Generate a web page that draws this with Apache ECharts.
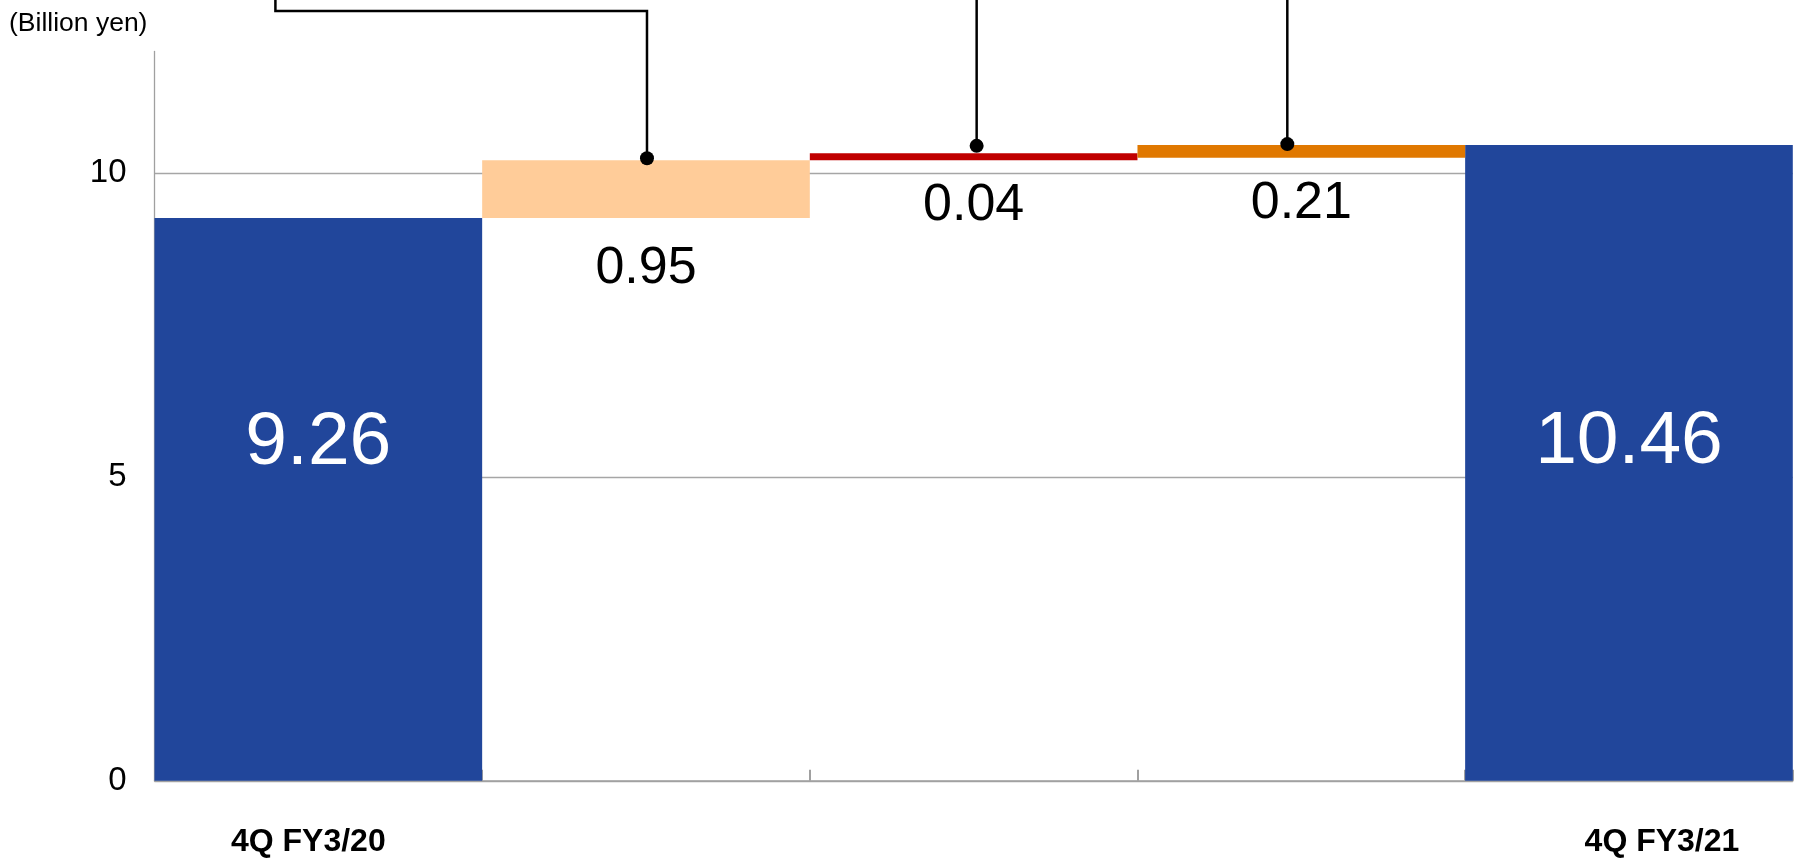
<!DOCTYPE html>
<html><head><meta charset="utf-8">
<script src="https://cdn.jsdelivr.net/npm/echarts@6/dist/echarts.min.js"></script>
<style>html,body{margin:0;padding:0;background:#fff}#c{width:1795px;height:858px}</style>
</head><body><div id="c"></div>
<script>
// ---- data ----
const categories = ['4Q FY3/20', ' ', '  ', '   ', '4Q FY3/21'];
const startValue = 9.26;
const changes = [0.95, 0.04, 0.21];
const endValue = 10.46;
const changeLabels = ['0.95', '0.04', '0.21'];
const yAxisMin = 0, yAxisMax = 12, yAxisInterval = 5;
const unitLabel = '(Billion yen)';

// ---- style ----
const FONT = '"Liberation Sans", Arial, Helvetica, sans-serif';
const totalColor = '#21469B';
const stepColors = ['#FFCC99', '#C00000', '#E07800'];
const stepLabelDist = [51, 45, 46];
const stepMinHeight = [0, 7, 0];
const leaderStyle = [
  {dx: 1, dy: -2, elbow: true},
  {dx: 3, dy: -12, elbow: false},
  {dx: -14, dy: -1, elbow: false}
];

const bases = [];
let run = startValue;
changes.forEach(c => { bases.push(run); run = +(run + c).toFixed(4); });

const chart = echarts.init(document.getElementById('c'), null, {renderer: 'canvas'});

const baseData = categories.map((_, i) => (i >= 1 && i <= changes.length) ? bases[i - 1] : '-');
const totalData = categories.map((_, i) => {
  if (i === 0) return {value: startValue, label: {offset: [0, -56]}};
  if (i === categories.length - 1) return {value: endValue, label: {offset: [0, -21]}};
  return '-';
});

const series = [
  {type: 'bar', stack: 'w', data: baseData, barCategoryGap: '0%',
   itemStyle: {color: 'rgba(0,0,0,0)'}, silent: true, label: {show: false}},
  {type: 'bar', stack: 'w', data: totalData, barCategoryGap: '0%',
   itemStyle: {color: totalColor},
   label: {show: true, position: 'inside', color: '#fff', fontSize: 75, fontFamily: FONT,
           formatter: p => Number(p.value).toFixed(2)}}
];
changes.forEach((c, k) => {
  series.push({
    type: 'bar', stack: 'w', barCategoryGap: '0%', barMinHeight: stepMinHeight[k],
    data: categories.map((_, i) => i === k + 1 ? c : '-'),
    itemStyle: {color: stepColors[k]},
    label: {show: true, position: 'bottom', verticalAlign: 'middle', distance: stepLabelDist[k],
            color: '#000', fontSize: 52, fontFamily: FONT, formatter: () => changeLabels[k]}
  });
});

chart.setOption({
  animation: false,
  backgroundColor: '#fff',
  textStyle: {fontFamily: FONT},
  title: {text: unitLabel, left: 9, top: 10, padding: 0,
          textStyle: {fontSize: 26.5, fontWeight: 'normal', color: '#000', fontFamily: FONT}},
  grid: {left: 154.5, right: 2.2, top: 51.5, bottom: 77.2, containLabel: false},
  xAxis: {
    type: 'category',
    data: [
      {value: categories[0], textStyle: {padding: [0, 20, 0, 0]}},
      categories[1], categories[2], categories[3],
      {value: categories[4], textStyle: {padding: [0, 0, 0, 66]}}
    ],
    axisLine: {lineStyle: {color: '#a0a0a0', width: 1.5}},
    axisTick: {show: true, inside: true, length: 11, alignWithLabel: false,
               lineStyle: {color: '#a0a0a0', width: 2}},
    axisLabel: {interval: 0, fontSize: 32, fontWeight: 'bold', color: '#000', margin: 45, fontFamily: FONT}
  },
  yAxis: {
    type: 'value', min: yAxisMin, max: yAxisMax, interval: yAxisInterval,
    axisLine: {show: true, lineStyle: {color: '#a0a0a0', width: 1.3}},
    axisTick: {show: false},
    axisLabel: {fontSize: 33, color: '#000', margin: 28, showMaxLabel: false, fontFamily: FONT},
    splitLine: {show: true, showMaxLine: false, lineStyle: {color: '#a6a6a6', width: 1.3}}
  },
  series: series
});

// leader lines with dots at each step
const graphics = [];
const catW = chart.convertToPixel({gridIndex: 0}, [1, 0])[0] - chart.convertToPixel({gridIndex: 0}, [0, 0])[0];
const cat0Left = chart.convertToPixel({gridIndex: 0}, [0, 0])[0] - catW / 2;
const gridTop = chart.convertToPixel({gridIndex: 0}, [0, yAxisMax])[1];
changes.forEach((c, k) => {
  const top = bases[k] + c;
  const p = chart.convertToPixel({gridIndex: 0}, [k + 1, top]);
  const x = p[0] + leaderStyle[k].dx;
  const y = p[1] + leaderStyle[k].dy;
  let pts;
  if (leaderStyle[k].elbow) {
    const ey = gridTop - 40.5;
    const ex = cat0Left + catW * 0.369;
    pts = [[x, y], [x, ey], [ex, ey], [ex, -5]];
  } else {
    pts = [[x, y], [x, -5]];
  }
  graphics.push({type: 'polyline', shape: {points: pts}, style: {stroke: '#000', lineWidth: 2.5, fill: null}, z: 100});
  graphics.push({type: 'circle', shape: {cx: x, cy: y, r: 7}, style: {fill: '#000'}, z: 101});
});
chart.setOption({graphic: graphics});
</script>
</body></html>
